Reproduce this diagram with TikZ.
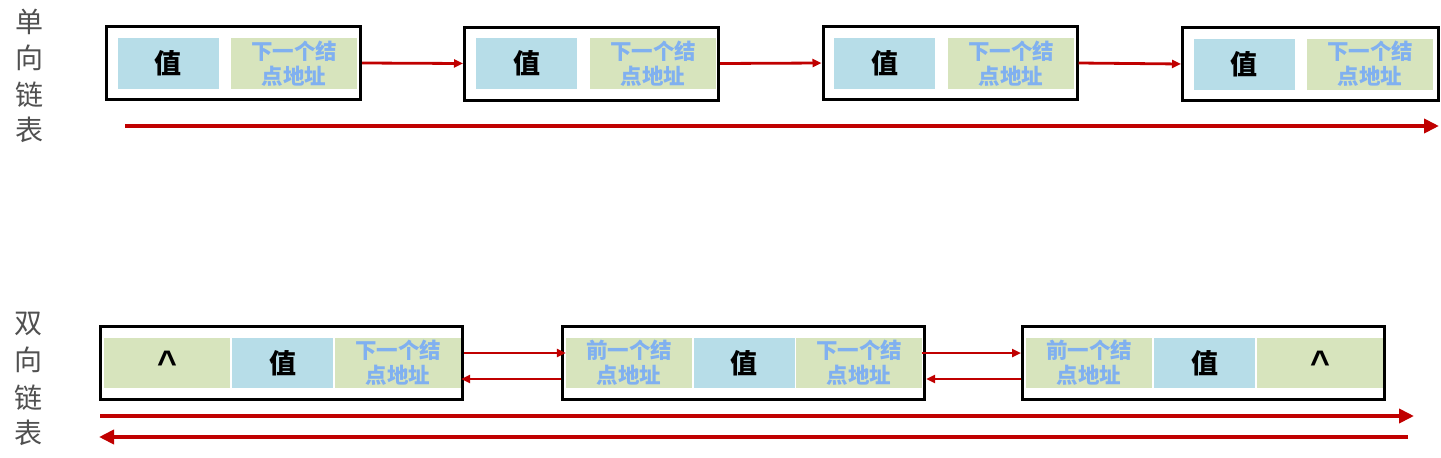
\documentclass[tikz,border=0pt]{standalone}
\usepackage{fontspec}
\usetikzlibrary{arrows.meta}
\newfontfamily\cjk{Noto Sans CJK SC}
\newfontfamily\latinb{Liberation Sans}
\definecolor{valblue}{HTML}{B7DDE8}
\definecolor{ptrgreen}{HTML}{D7E4BD}
\definecolor{ptrtext}{RGB}{128,176,240}
\definecolor{arrred}{HTML}{C00000}
\definecolor{labgray}{HTML}{505050}
\begin{document}
\begin{tikzpicture}[x=1pt,y=-1pt,
  outer/.style={draw=black,line width=3pt,minimum width=254pt,minimum height=73pt,inner sep=0pt},
  outerd/.style={outer,minimum width=362pt},
  valcell/.style={fill=valblue,minimum width=101pt,minimum height=51pt,inner sep=0pt,font=\cjk\bfseries\fontsize{27}{30}\selectfont},
  ptrcell/.style={fill=ptrgreen,minimum width=126pt,minimum height=51pt,inner sep=0pt,align=center,text=ptrtext,font=\cjk\bfseries\fontsize{21.5}{25}\selectfont},
  nilcell/.style={fill=ptrgreen,minimum width=126pt,minimum height=50pt,inner sep=0pt,font=\latinb\bfseries\fontsize{34}{34}\selectfont},
  link/.style={draw=arrred,line width=2.8pt,-{Triangle[length=9pt,width=8pt]}},
  biglink/.style={draw=arrred,line width=4.5pt,-{Triangle[length=15pt,width=14pt]}},
  lab/.style={text=labgray,font=\cjk\fontsize{28}{30}\selectfont,inner sep=0pt}
]
\useasboundingbox (0,0) rectangle (1441,458);
% left labels
\node[lab] (l1) at (29,22) {单};
\node[lab] (l2) at (29,58) {向};
\node[lab] (l3) at (29,95) {链};
\node[lab] (l4) at (29,130) {表};
\node[lab] (m1) at (28,324) {双};
\node[lab] (m2) at (28,360) {向};
\node[lab] (m3) at (28,398) {链};
\node[lab] (m4) at (28,433) {表};
% singly linked list
\node[outer] (a1) at (233.5,63) {};
\node[outer] (a2) at (591.5,63.5) {};
\node[outer] (a3) at (950,63) {};
\node[outer,minimum width=256pt] (a4) at (1310.5,64) {};
\node[valcell] (a1v) at (168,63.5) {值};
\node[ptrcell] (a1n) at (294,63.5) {下一个结\\点地址};
\node[valcell] (a2v) at (526.5,63.5) {值};
\node[ptrcell] (a2n) at (653,63.5) {下一个结\\点地址};
\node[valcell] (a3v) at (884.5,63.5) {值};
\node[ptrcell] (a3n) at (1011,63.5) {下一个结\\点地址};
\node[valcell] (a4v) at (1244,64) {值};
\node[ptrcell] (a4n) at (1370,64) {下一个结\\点地址};
\draw[link] (a1.east) -- (a2.west);
\draw[link] (a2.east) -- (a3.west);
\draw[link] (a3.east) -- (a4.west);
\coordinate (s1) at (125,126);
\coordinate (e1) at (1439,126);
\draw[biglink] (s1) -- (e1);
% doubly linked list
\node[outerd] (b1) at (281,363) {};
\node[outerd] (b2) at (743.5,363) {};
\node[outerd] (b3) at (1203.5,363) {};
\node[nilcell] (b1p) at (167,363) {\raisebox{-8pt}{\textasciicircum}};
\node[valcell,minimum height=50pt] (b1v) at (282.5,363) {值};
\node[ptrcell,minimum height=50pt] (b1n) at (398,363) {下一个结\\点地址};
\node[ptrcell,minimum height=50pt] (b2p) at (629,363) {前一个结\\点地址};
\node[valcell,minimum height=50pt] (b2v) at (744,363) {值};
\node[ptrcell,minimum height=50pt] (b2n) at (859,363) {下一个结\\点地址};
\node[ptrcell,minimum height=50pt] (b3p) at (1089,363) {前一个结\\点地址};
\node[valcell,minimum height=50pt] (b3v) at (1204.5,363) {值};
\node[nilcell] (b3n) at (1320,363) {\raisebox{-8pt}{\textasciicircum}};
\draw[link] ([yshift=10pt]b1.east) -- ([yshift=10pt]b2p.west);
\draw[link] ([yshift=-16pt]b2.west) -- ([yshift=-16pt]b1n.east);
\draw[link] ([yshift=10pt]b2n.east) -- ([yshift=10pt]b3.west);
\draw[link] ([yshift=-16pt]b3.west) -- ([yshift=-16pt]b2.east);
\coordinate (s2) at (100,416);
\coordinate (e2) at (1414,416);
\draw[biglink] (s2) -- (e2);
\coordinate (s3) at (1408,437);
\coordinate (e3) at (99,437);
\draw[biglink] (s3) -- (e3);
\end{tikzpicture}
\end{document}
